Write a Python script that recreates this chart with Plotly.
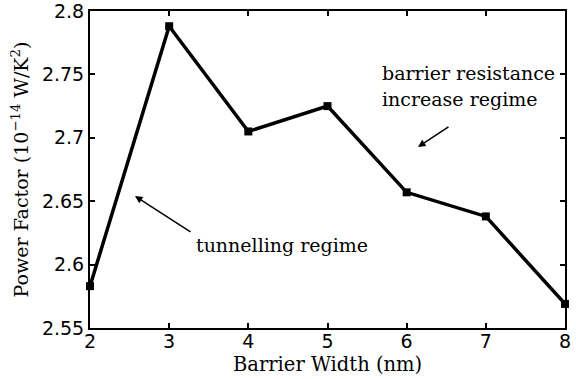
import plotly.graph_objects as go

barrier_width = [2, 3, 4, 5, 6, 7, 8]
power_factor = [2.583, 2.788, 2.705, 2.725, 2.657, 2.638, 2.569]

x_ticks = [2, 3, 4, 5, 6, 7, 8]
y_ticks = [2.55, 2.6, 2.65, 2.7, 2.75, 2.8]
y_tick_labels = ["2.55", "2.6", "2.65", "2.7", "2.75", "2.8"]

serif = "DejaVu Serif"
sans = "DejaVu Sans"

fig = go.Figure()
fig.add_trace(go.Scatter(
    x=barrier_width, y=power_factor, mode="lines+markers",
    line=dict(color="black", width=3.5),
    marker=dict(symbol="square", size=8, color="black"),
    showlegend=False, cliponaxis=False, hoverinfo="skip",
))

axis_common = dict(
    showline=True, linecolor="black", linewidth=2, mirror="ticks",
    ticks="inside", ticklen=5, tickwidth=1.5, tickcolor="black",
    showgrid=False, zeroline=False, automargin=False,
    ticklabeloverflow="allow",
    tickfont=dict(family=sans, size=19, color="black"),
)

fig.update_xaxes(range=[2, 8], tickvals=x_ticks, ticklabelstandoff=-5, **axis_common)
fig.update_yaxes(
    range=[2.55, 2.8], tickvals=y_ticks, ticktext=y_tick_labels,
    title=dict(text="Power Factor (10<sup>−14</sup> W/K<sup>2</sup>)",
               font=dict(family=serif, size=19, color="black"), standoff=8),
    **axis_common,
)

fig.add_annotation(x=0.5, y=-0.116, xref="paper", yref="paper", text="Barrier Width (nm)",
                   showarrow=False, xanchor="center", yanchor="middle",
                   font=dict(family=serif, size=19.5, color="black"))

ann_font = dict(family=serif, size=19, color="black")
fig.add_annotation(x=5.663, y=2.751, xref="x", yref="y", text="barrier resistance",
                   showarrow=False, xanchor="left", yanchor="middle", font=ann_font)
fig.add_annotation(x=5.663, y=2.7306, xref="x", yref="y", text="increase regime",
                   showarrow=False, xanchor="left", yanchor="middle", font=ann_font)
fig.add_annotation(x=3.314, y=2.6155, xref="x", yref="y", text="tunnelling regime",
                   showarrow=False, xanchor="left", yanchor="middle", font=ann_font)

fig.add_annotation(x=6.143, y=2.6927, ax=6.547, ay=2.7093, xref="x", yref="y",
                   axref="x", ayref="y", text="", showarrow=True, arrowhead=2,
                   arrowsize=1, arrowwidth=1.5, arrowcolor="black")
fig.add_annotation(x=2.568, y=2.6541, ax=3.288, ay=2.625, xref="x", yref="y",
                   axref="x", ayref="y", text="", showarrow=True, arrowhead=2,
                   arrowsize=1, arrowwidth=1.5, arrowcolor="black")

fig.update_layout(
    width=576, height=379,
    margin=dict(l=90, r=11, t=11, b=51),
    paper_bgcolor="white", plot_bgcolor="white",
)

fig.write_html("out.html", config={"displayModeBar": False},
               post_script="document.body.style.margin='0px';document.body.style.overflow='hidden';")
